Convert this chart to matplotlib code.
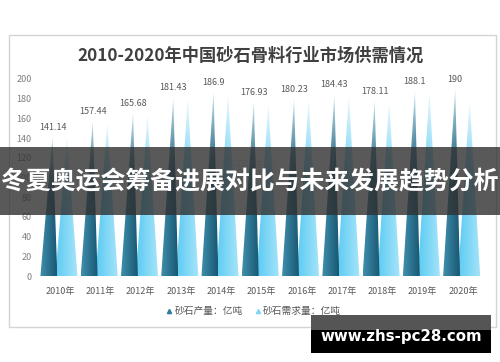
import numpy as np
import matplotlib
matplotlib.use("Agg")
import matplotlib.pyplot as plt
from matplotlib.patches import Polygon, Rectangle
from matplotlib.colors import to_rgb

plt.rcParams['font.family'] = ['Noto Sans CJK SC', 'DejaVu Sans']

years = ['2010年', '2011年', '2012年', '2013年', '2014年', '2015年',
         '2016年', '2017年', '2018年', '2019年', '2020年']
production = [141.14, 157.44, 165.68, 181.43, 186.9, 176.93,
              180.23, 184.43, 178.11, 188.1, 190]
demand = [140.5, 155.8, 164.0, 180.5, 185.5, 175.5,
          180.0, 184.0, 177.5, 187.5, 178.5]
yticks = [0, 20, 40, 60, 80, 100, 120, 140, 160, 180, 200]

title = '2010-2020年中国砂石骨料行业市场供需情况'
legend_labels = ['砂石产量：亿吨', '砂石需求量：亿吨']
banner = '冬夏奥运会筹备进展对比与未来发展趋势分析'
site = 'www.zhs-pc28.com'

W, H = 500, 362


def cone(ax, x0, x1, xa, h, left_col, right_col, top_col, z):
    poly = Polygon([(x0, 0), (xa, h), (x1, 0)], closed=True,
                   facecolor='none', edgecolor='none')
    ax.add_patch(poly)
    ny, nx = 80, 24
    v = np.linspace(0, 1, ny)[:, None, None]
    u = np.linspace(0, 1, nx)[None, :, None]
    lc, rc, tc = (np.array(to_rgb(c)) for c in (left_col, right_col, top_col))
    base = lc * (1 - u) + rc * u
    f = np.clip((v - 0.55) / 0.45, 0, 1) ** 1.3
    img = base * (1 - f) + tc * f
    im = ax.imshow(img, extent=[x0, x1, 0, h], origin='lower', aspect='auto',
                   interpolation='bilinear', zorder=z)
    im.set_clip_path(poly)


fig = plt.figure(figsize=(W / 100, H / 100), dpi=100)

# background layer: frame, title, legend
bg = fig.add_axes([0, 0, 1, 1], zorder=0)
bg.set_xlim(0, W)
bg.set_ylim(H, 0)
bg.axis('off')
bg.add_patch(Rectangle((9, 35), 487, 292, facecolor='white',
                       edgecolor='#d4d4d4', linewidth=1))
bg.text(251, 56, title, ha='center', va='center', fontsize=12.4,
        fontweight='bold', color='#404040')
bg.text(250, 167, '智研咨询', ha='center', va='center', fontsize=10,
        color='#c8c8c8', alpha=0.5)
bg.plot([169], [311], marker='^', markersize=3, color='#2f7a97', linestyle='none')
bg.text(175, 311, legend_labels[0], ha='left', va='center', fontsize=7,
        color='#595959')
bg.plot([258], [311], marker='^', markersize=3, color='#7fd6f5', linestyle='none')
bg.text(263, 311, legend_labels[1], ha='left', va='center', fontsize=7,
        color='#595959')

# chart
ax = fig.add_axes([40 / W, 1 - 276 / H, 443 / W, 197 / H], zorder=1)
ax.patch.set_alpha(0)
x = np.arange(len(years))
for i in x:
    cone(ax, i - 0.49, i - 0.07, i - 0.19, production[i],
         '#3f8fad', '#1a5873', '#cfe9f2', 3)
    cone(ax, i - 0.12, i + 0.43, i + 0.17, demand[i],
         '#5ccbf3', '#a6e4f9', '#f0fafe', 2)
    ax.text(i - 0.19, production[i] + 5, f'{production[i]:g}', ha='center',
            va='bottom', fontsize=6.5, color='#595959', clip_on=False)
ax.set_xlim(-0.5, len(years) - 0.5)
ax.set_ylim(0, 200)
ax.set_xticks(x)
ax.set_xticklabels(years, fontsize=6.5, color='#595959')
ax.set_yticks(yticks)
ax.set_yticklabels([str(t) for t in yticks], fontsize=6.5, color='#7f7f7f')
ax.tick_params(axis='x', length=0, pad=8)
ax.tick_params(axis='y', length=0, pad=6)
for s in ax.spines.values():
    s.set_visible(False)

# overlay layer: banner and site box
fg = fig.add_axes([0, 0, 1, 1], zorder=5)
fg.set_xlim(0, W)
fg.set_ylim(H, 0)
fg.axis('off')
fg.patch.set_alpha(0)
fg.add_patch(Rectangle((0, 147), W, 68, facecolor='#303030', alpha=0.8,
                       edgecolor='none'))
fg.text(250, 182, banner, ha='center', va='center', fontsize=17.9,
        fontweight='bold', color='white')
fg.add_patch(Rectangle((311, 315), 180, 15, facecolor='#555555',
                       edgecolor='none'))
fg.add_patch(Rectangle((311, 330), 180, 23, facecolor='black',
                       edgecolor='none'))
fg.text(401, 337, site, ha='center', va='center', fontsize=10.8,
        fontweight='bold', color='white', family='DejaVu Sans')

fig.savefig('out.png', dpi=100, facecolor='white')
